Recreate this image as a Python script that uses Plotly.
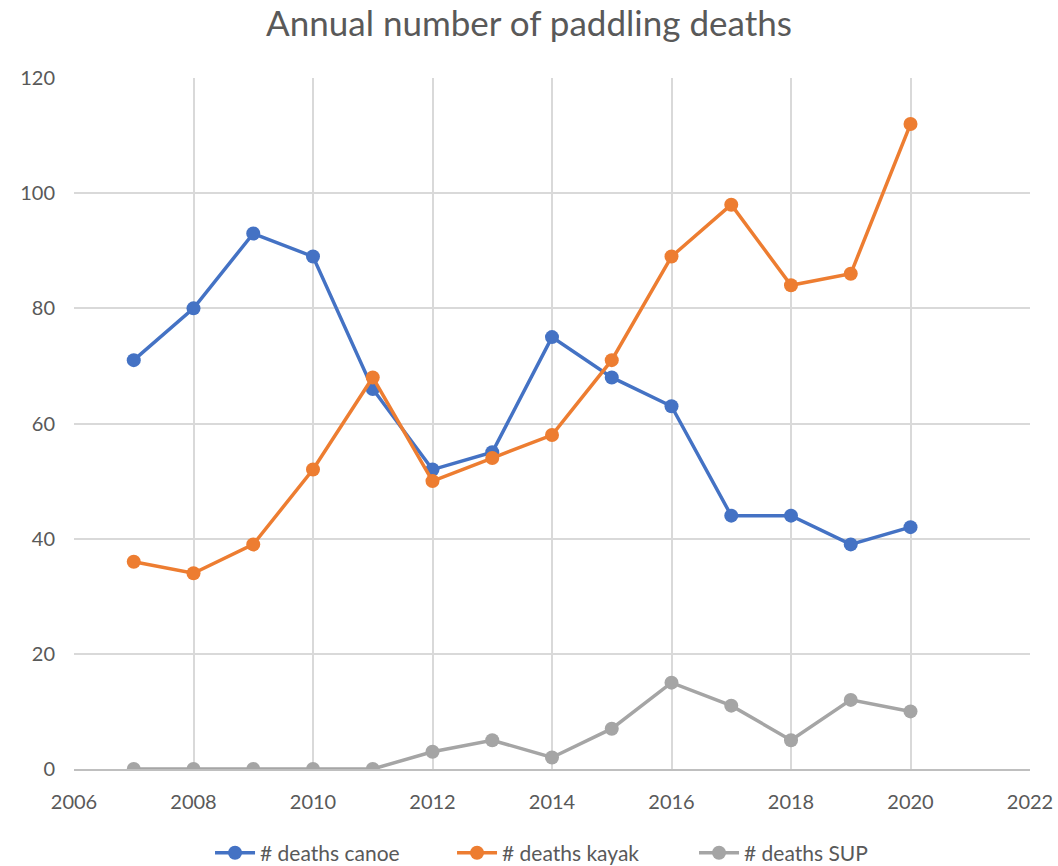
import plotly.graph_objects as go

years = [2007, 2008, 2009, 2010, 2011, 2012, 2013, 2014, 2015, 2016, 2017, 2018, 2019, 2020]
canoe = [71, 80, 93, 89, 66, 52, 55, 75, 68, 63, 44, 44, 39, 42]
kayak = [36, 34, 39, 52, 68, 50, 54, 58, 71, 89, 98, 84, 86, 112]
sup = [0, 0, 0, 0, 0, 3, 5, 2, 7, 15, 11, 5, 12, 10]

series = [
    ("# deaths canoe", canoe, "#4472C4"),
    ("# deaths kayak", kayak, "#ED7D31"),
    ("# deaths SUP", sup, "#A5A5A5"),
]

fig = go.Figure()
for name, vals, col in series:
    fig.add_trace(go.Scatter(
        x=years, y=vals, name=name, mode="lines+markers",
        line=dict(color=col, width=3.5),
        marker=dict(color=col, size=14),
    ))

font = "Lato, 'Open Sans', sans-serif"
fig.update_layout(
    width=1058, height=866,
    paper_bgcolor="white", plot_bgcolor="white",
    margin=dict(l=74, r=28, t=78, b=97, autoexpand=False),
    title=dict(text="Annual number of paddling deaths", x=0.5, xanchor="center",
               y=0.987, yanchor="top", automargin=False,
               font=dict(family=font, size=35, color="#595959")),
    font=dict(family=font, size=20, color="#595959"),
    xaxis=dict(range=[2006, 2022], dtick=2, tick0=2006, showgrid=True,
               gridcolor="#D9D9D9", gridwidth=1.5, zeroline=False,
               showline=True, linecolor="#BFBFBF", linewidth=1.5,
               ticks="", ticklabelstandoff=14, automargin=False),
    yaxis=dict(range=[0, 120], dtick=20, showgrid=True,
               gridcolor="#D9D9D9", gridwidth=1.5, zeroline=False,
               showline=False, ticks="", ticklabelstandoff=18, automargin=False),
    legend=dict(orientation="h", x=0.522, xanchor="center", y=-0.092, yanchor="top",
                font=dict(size=21, color="#595959"), itemwidth=40,
                entrywidth=187),
    showlegend=True,
)

fig.write_html("out.html", config={"displayModeBar": False},
               post_script="document.body.style.margin='0';document.body.style.overflow='hidden';")
